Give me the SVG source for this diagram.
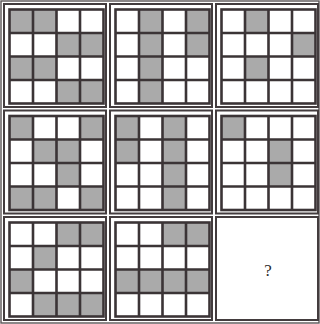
<svg xmlns="http://www.w3.org/2000/svg" xmlns:xlink="http://www.w3.org/1999/xlink" width="320" height="324" viewBox="0 0 320 324">
<style>
.frame{fill:#fff;stroke:#433c3e;stroke-width:2}
.outer{fill:#fff;stroke:#5a5456;stroke-width:1.4}
.g{fill:#aaaaaa}
.gl{fill:none;stroke:#3b3436;stroke-width:2.6}
.q{font-family:"Liberation Serif",serif;font-size:17px;fill:#2b2b2b;text-anchor:middle}
</style>
<defs>
<g id="grid">
<rect class="gl" x="0" y="0" width="94" height="94"/>
<path class="gl" d="M23.5 0V94M47 0V94M70.5 0V94M0 23.5H94M0 47H94M0 70.5H94"/>
</g>
<rect id="c" width="23.5" height="23.5" class="g"/>
</defs>
<rect class="outer" x="1" y="1" width="318" height="322"/>
<g id="connectors"/>
<g id="p1" transform="translate(4,4)">
<rect class="frame" width="102" height="103"/>
<g transform="translate(5.5,5.5)">
<use href="#c" x="0" y="0"/><use href="#c" x="23.5" y="0"/>
<use href="#c" x="47" y="23.5"/><use href="#c" x="70.5" y="23.5"/>
<use href="#c" x="0" y="47"/><use href="#c" x="23.5" y="47"/>
<use href="#c" x="47" y="70.5"/><use href="#c" x="70.5" y="70.5"/>
<use href="#grid"/>
</g>
</g>
<g id="p2" transform="translate(110,4)">
<rect class="frame" width="102" height="103"/>
<g transform="translate(5.5,5.5)">
<use href="#c" x="23.5" y="0"/><use href="#c" x="70.5" y="0"/>
<use href="#c" x="23.5" y="23.5"/><use href="#c" x="70.5" y="23.5"/>
<use href="#c" x="23.5" y="47"/>
<use href="#c" x="23.5" y="70.5"/>
<use href="#grid"/>
</g>
</g>
<g id="p3" transform="translate(216,4)">
<rect class="frame" width="102" height="103"/>
<g transform="translate(5.5,5.5)">
<use href="#c" x="23.5" y="0"/>
<use href="#c" x="70.5" y="23.5"/>
<use href="#c" x="23.5" y="47"/>
<use href="#grid"/>
</g>
</g>
<g id="p4" transform="translate(4,110.5)">
<rect class="frame" width="102" height="103"/>
<g transform="translate(5.5,5.5)">
<use href="#c" x="0" y="0"/><use href="#c" x="70.5" y="0"/>
<use href="#c" x="23.5" y="23.5"/><use href="#c" x="47" y="23.5"/>
<use href="#c" x="47" y="47"/>
<use href="#c" x="0" y="70.5"/><use href="#c" x="23.5" y="70.5"/><use href="#c" x="70.5" y="70.5"/>
<use href="#grid"/>
</g>
</g>
<g id="p5" transform="translate(110,110.5)">
<rect class="frame" width="102" height="103"/>
<g transform="translate(5.5,5.5)">
<use href="#c" x="0" y="0"/><use href="#c" x="47" y="0"/>
<use href="#c" x="0" y="23.5"/><use href="#c" x="47" y="23.5"/>
<use href="#c" x="47" y="47"/>
<use href="#c" x="47" y="70.5"/>
<use href="#grid"/>
</g>
</g>
<g id="p6" transform="translate(216,110.5)">
<rect class="frame" width="102" height="103"/>
<g transform="translate(5.5,5.5)">
<use href="#c" x="0" y="0"/>
<use href="#c" x="47" y="23.5"/>
<use href="#c" x="47" y="47"/>
<use href="#grid"/>
</g>
</g>
<g id="p7" transform="translate(4,217)">
<rect class="frame" width="102" height="103"/>
<g transform="translate(5.5,5.5)">
<use href="#c" x="47" y="0"/><use href="#c" x="70.5" y="0"/>
<use href="#c" x="23.5" y="23.5"/>
<use href="#c" x="0" y="47"/>
<use href="#c" x="23.5" y="70.5"/><use href="#c" x="47" y="70.5"/><use href="#c" x="70.5" y="70.5"/>
<use href="#grid"/>
</g>
</g>
<g id="p8" transform="translate(110,217)">
<rect class="frame" width="102" height="103"/>
<g transform="translate(5.5,5.5)">
<use href="#c" x="47" y="0"/><use href="#c" x="70.5" y="0"/>
<use href="#c" x="0" y="47"/><use href="#c" x="23.5" y="47"/><use href="#c" x="47" y="47"/><use href="#c" x="70.5" y="47"/>
<use href="#grid"/>
</g>
</g>
<g id="p9" transform="translate(216,217)">
<rect class="frame" width="102" height="103"/>
<text class="q" x="52" y="59">?</text>
</g>
</svg>
